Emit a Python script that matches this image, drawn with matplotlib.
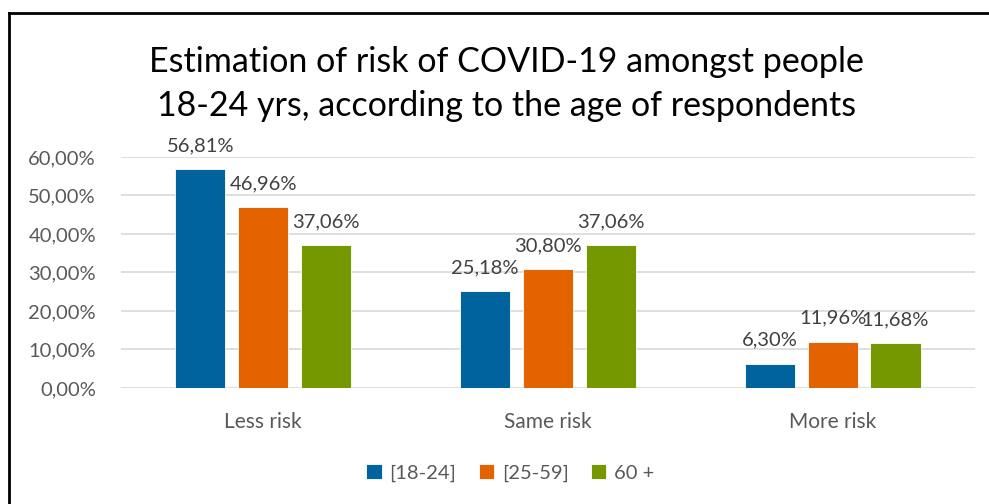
import matplotlib.pyplot as plt
from matplotlib.lines import Line2D
import numpy as np

plt.rcParams['font.family'] = ['Lato', 'DejaVu Sans']

categories = ['Less risk', 'Same risk', 'More risk']
groups = ['[18-24]', '[25-59]', '60 +']
age_18_24 = [56.81, 25.18, 6.30]
age_25_59 = [46.96, 30.80, 11.96]
age_60 = [37.06, 37.06, 11.68]
colors = ['#00639E', '#E36300', '#759700']

series = [age_18_24, age_25_59, age_60]

fig = plt.figure(figsize=(9.89, 5.04), dpi=100)
ax = fig.add_axes([0.1223, 0.2302, 0.8635, 0.4583])

x = np.arange(len(categories))
width = 0.176
step = 0.221
for i, (vals, name, c) in enumerate(zip(series, groups, colors)):
    pos = x + (i - 1) * step
    ax.bar(pos, vals, width, color=c, label=name, edgecolor='white', linewidth=0.6, zorder=3)
    for p, v in zip(pos, vals):
        ax.annotate(f'{v:.2f}%'.replace('.', ','), (p, v), xytext=(0, 17),
                    textcoords='offset points', ha='center', va='center',
                    fontsize=14.5, color='#404040')

ax.set_xlim(-0.5, 2.5)
ax.set_ylim(0, 60)
ax.set_yticks(np.arange(0, 61, 10))
ax.set_yticklabels([f'{t:.2f}%'.replace('.', ',') for t in np.arange(0, 61, 10)])
ax.set_xticks(x)
ax.set_xticklabels(categories)
ax.tick_params(axis='both', length=0, labelsize=14.5, labelcolor='#595959')
ax.tick_params(axis='x', pad=17, labelsize=15)
ax.tick_params(axis='y', pad=18)
ax.grid(axis='y', color='#D9D9D9', linewidth=1.2, zorder=0)
for s in ax.spines.values():
    s.set_visible(False)

fig.text(0.512, 0.876, 'Estimation of risk of COVID-19 amongst people', ha='center',
         va='center', fontsize=24.5, color='black')
fig.text(0.512, 0.79, '18-24 yrs, according to the age of respondents', ha='center',
         va='center', fontsize=24.5, color='black')

fig.legend(loc='center', bbox_to_anchor=(0.516, 0.0615), ncol=3, frameon=False,
           fontsize=14.5, labelcolor='#595959', handlelength=0.75, handleheight=0.75,
           handletextpad=0.4, columnspacing=1.1)

# chart frame
fig.add_artist(Line2D([0.0091, 0.0091], [0, 0.974], color='black', lw=2, transform=fig.transFigure))
fig.add_artist(Line2D([0.0091, 1], [0.974, 0.974], color='black', lw=2, transform=fig.transFigure))

fig.savefig('out.png', dpi=100)
